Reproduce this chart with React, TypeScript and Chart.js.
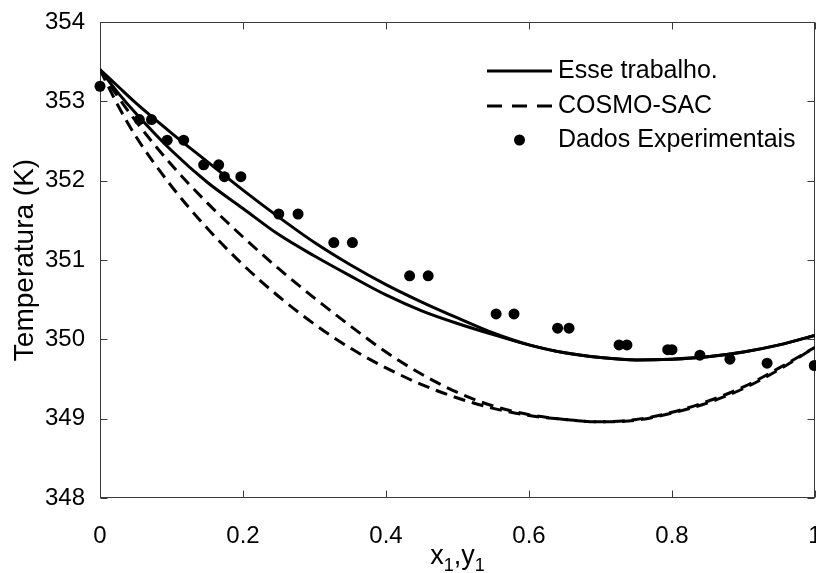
import React, { useEffect, useRef } from 'react';
import { Chart, registerables } from 'chart.js';

Chart.register(...registerables);

// ---- data ----
const curveX = [0, 0.025, 0.05, 0.1, 0.15, 0.2, 0.25, 0.3, 0.35, 0.4, 0.45, 0.5, 0.55, 0.6, 0.65, 0.7, 0.75, 0.8, 0.85, 0.9, 0.95, 1];

const esseDew = [353.40, 353.19, 352.98, 352.60, 352.24, 351.88, 351.54, 351.22, 350.94, 350.69, 350.47, 350.27, 350.08, 349.93, 349.83, 349.77, 349.74, 349.75, 349.78, 349.84, 349.93, 350.05];
const esseBubble = [353.40, 353.11, 352.85, 352.38, 351.98, 351.65, 351.32, 351.05, 350.80, 350.56, 350.36, 350.20, 350.06, 349.93, 349.83, 349.77, 349.74, 349.75, 349.78, 349.84, 349.93, 350.05];

const cosmoDew = [353.40, 353.06, 352.75, 352.20, 351.72, 351.29, 350.89, 350.52, 350.17, 349.84, 349.56, 349.33, 349.16, 349.05, 348.99, 348.96, 348.99, 349.08, 349.22, 349.40, 349.64, 349.90];
const cosmoBubble = [353.40, 352.95, 352.56, 351.93, 351.40, 350.94, 350.54, 350.19, 349.89, 349.64, 349.43, 349.26, 349.13, 349.04, 348.99, 348.96, 348.98, 349.07, 349.20, 349.38, 349.62, 349.90];

const expX = [0.0, 0.055, 0.072, 0.094, 0.117, 0.145, 0.166, 0.174, 0.197, 0.250, 0.277, 0.327, 0.353, 0.433, 0.459, 0.554, 0.579, 0.640, 0.656, 0.726, 0.737, 0.794, 0.800, 0.839, 0.881, 0.933, 0.999];
const expT = [353.19, 352.77, 352.77, 352.51, 352.51, 352.20, 352.20, 352.05, 352.05, 351.58, 351.58, 351.22, 351.22, 350.80, 350.80, 350.32, 350.32, 350.14, 350.14, 349.93, 349.93, 349.87, 349.87, 349.80, 349.75, 349.70, 349.67];

const legendLabels = ['Esse trabalho.', 'COSMO-SAC', 'Dados Experimentais'];
const yTitle = 'Temperatura (K)';
const xMin = 0, xMax = 1, xStep = 0.2;
const yMin = 348, yMax = 354, yStep = 1;

const FONT = '"Liberation Sans", Arial, Helvetica, sans-serif';
const DASH = [12, 7];

const pts = (xs: number[], ys: number[]) => xs.map((x, i) => ({ x, y: ys[i] }));

const frameAndTicks = {
  id: 'frameAndTicks',
  beforeDatasetsDraw(chart: any) {
    const { ctx, chartArea, scales } = chart;
    const { left, right, top, bottom } = chartArea;
    ctx.save();
    ctx.strokeStyle = '#3a3a3a';
    ctx.lineWidth = 1;
    const L = Math.round(left) + 0.5, R = Math.round(right) - 0.5;
    const T = Math.round(top) + 0.5, B = Math.round(bottom) - 0.5;
    ctx.strokeRect(L, T, R - L, B - T);
    const len = 7;
    ctx.beginPath();
    scales.x.ticks.forEach((t: any) => {
      const px = Math.round(scales.x.getPixelForValue(t.value)) + 0.5;
      ctx.moveTo(px, B); ctx.lineTo(px, B - len);
      ctx.moveTo(px, T); ctx.lineTo(px, T + len);
    });
    scales.y.ticks.forEach((t: any) => {
      const py = Math.round(scales.y.getPixelForValue(t.value)) + 0.5;
      ctx.moveTo(L, py); ctx.lineTo(L + len, py);
      ctx.moveTo(R, py); ctx.lineTo(R - len, py);
    });
    ctx.stroke();
    ctx.restore();
  },
};

const legendPlugin = {
  id: 'customLegend',
  afterDraw(chart: any) {
    const { ctx, chartArea } = chart;
    const { right, top } = chartArea;
    const lineStart = right - 328, lineEnd = right - 263, textX = right - 257;
    const rows = [top + 49, top + 84, top + 118];
    ctx.save();
    ctx.fillStyle = '#000';
    ctx.strokeStyle = '#000';
    ctx.font = `25px ${FONT}`;
    ctx.textBaseline = 'middle';
    ctx.textAlign = 'left';
    ctx.lineWidth = 3;
    ctx.setLineDash([]);
    ctx.beginPath(); ctx.moveTo(lineStart, rows[0]); ctx.lineTo(lineEnd, rows[0]); ctx.stroke();
    ctx.fillText(legendLabels[0], textX, rows[0]);
    ctx.setLineDash([15, 10]);
    ctx.beginPath(); ctx.moveTo(lineStart, rows[1]); ctx.lineTo(lineEnd, rows[1]); ctx.stroke();
    ctx.setLineDash([]);
    ctx.fillText(legendLabels[1], textX, rows[1]);
    ctx.beginPath(); ctx.arc((lineStart + lineEnd) / 2, rows[2], 5.5, 0, Math.PI * 2); ctx.fill();
    ctx.fillText(legendLabels[2], textX, rows[2]);
    ctx.restore();
  },
};

const xTitlePlugin = {
  id: 'xTitle',
  afterDraw(chart: any) {
    const { ctx, chartArea } = chart;
    const { left, right, bottom } = chartArea;
    const big = `27px ${FONT}`, small = `18px ${FONT}`;
    const parts = [
      { t: 'x', f: big, dy: 0 },
      { t: '1', f: small, dy: 7 },
      { t: ',', f: big, dy: 0 },
      { t: 'y', f: big, dy: 0 },
      { t: '1', f: small, dy: 7 },
    ];
    ctx.save();
    ctx.fillStyle = '#000';
    ctx.textBaseline = 'alphabetic';
    ctx.textAlign = 'left';
    let total = 0;
    parts.forEach(p => { ctx.font = p.f; total += ctx.measureText(p.t).width; });
    let x = (left + right) / 2 - total / 2;
    const base = bottom + 66;
    parts.forEach(p => { ctx.font = p.f; ctx.fillText(p.t, x, base + p.dy); x += ctx.measureText(p.t).width; });
    ctx.restore();
  },
};

export default function App() {
  const ref = useRef<HTMLCanvasElement>(null);
  useEffect(() => {
    const canvas = ref.current as HTMLCanvasElement;
    const lineBase = {
      showLine: true,
      borderColor: '#000',
      backgroundColor: '#000',
      borderWidth: 3,
      pointRadius: 0,
      pointHoverRadius: 0,
      cubicInterpolationMode: 'monotone' as const,
      fill: false,
    };
    const chart = new Chart(canvas, {
      type: 'scatter',
      data: {
        datasets: [
          { ...lineBase, label: legendLabels[0], data: pts(curveX, esseDew) },
          { ...lineBase, label: legendLabels[0], data: pts(curveX, esseBubble) },
          { ...lineBase, label: legendLabels[1], data: pts(curveX, cosmoDew), borderDash: DASH },
          { ...lineBase, label: legendLabels[1], data: pts(curveX, cosmoBubble), borderDash: DASH },
          {
            label: legendLabels[2],
            data: pts(expX, expT),
            showLine: false,
            pointRadius: 5.5,
            pointBorderWidth: 0,
            backgroundColor: '#000',
            borderColor: '#000',
            clip: false as any,
          },
        ],
      },
      options: {
        responsive: false,
        animation: false,
        layout: { padding: { top: 22, right: 1, left: 0, bottom: 0 }, autoPadding: false } as any,
        plugins: { legend: { display: false }, tooltip: { enabled: false } },
        scales: {
          x: {
            type: 'linear',
            min: xMin,
            max: xMax,
            grid: { display: false },
            border: { display: false },
            ticks: {
              stepSize: xStep,
              padding: 16,
              color: '#000',
              maxRotation: 0,
              autoSkip: false,
              font: { family: FONT, size: 24 },
              callback: (v: any) => String(Number(Number(v).toFixed(1))),
            },
            afterFit: (s: any) => { s.height = 75; s.paddingLeft = 0; s.paddingRight = 0; },
          },
          y: {
            type: 'linear',
            min: yMin,
            max: yMax,
            grid: { display: false },
            border: { display: false },
            ticks: {
              stepSize: yStep,
              padding: 7,
              color: '#000',
              font: { family: FONT, size: 24 },
              callback: (v: any) => String(v),
            },
            title: {
              display: true,
              text: yTitle,
              color: '#000',
              font: { family: FONT, size: 28 },
              padding: { top: 8, bottom: 0 },
            },
            afterFit: (s: any) => { s.width = 100; s.paddingTop = 0; s.paddingBottom = 0; },
          },
        },
      },
      plugins: [frameAndTicks, legendPlugin, xTitlePlugin],
    });
    return () => chart.destroy();
  }, []);
  return (
    <div style={{ position: 'absolute', left: 0, top: 0, width: 816, height: 573, background: '#fff' }}>
      <canvas ref={ref} width={816} height={573} style={{ display: 'block' }} />
    </div>
  );
}
